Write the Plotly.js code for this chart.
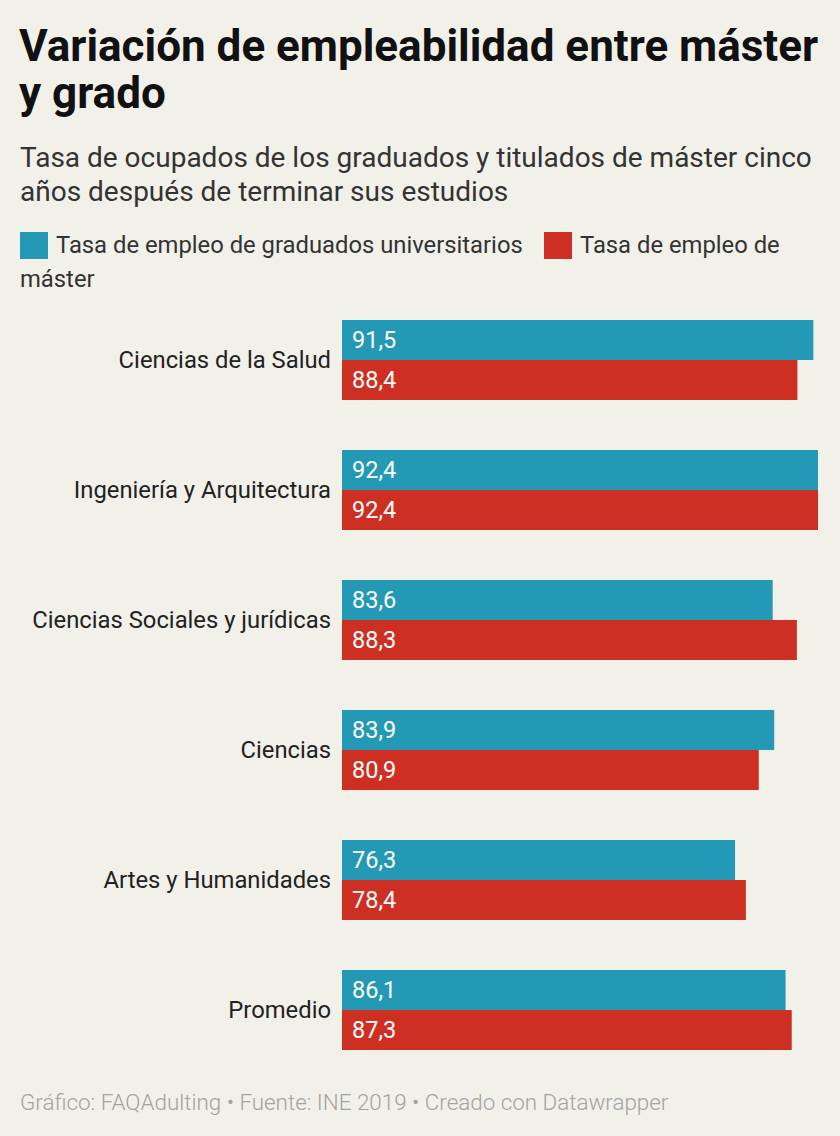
<!DOCTYPE html>
<html>
<head>
<meta charset="utf-8">
<script src="https://cdn.plot.ly/plotly-3.0.1.min.js"></script>
<style>
html, body { margin: 0; padding: 0; background: #f1f0e9; }
#chart { width: 840px; height: 1136px; }
</style>
</head>
<body>
<div id="chart"></div>
<script>
const categories = ['Ciencias de la Salud', 'Ingeniería y Arquitectura', 'Ciencias Sociales y jurídicas', 'Ciencias', 'Artes y Humanidades', 'Promedio'];
const grado = [91.5, 92.4, 83.6, 83.9, 76.3, 86.1];
const master = [88.4, 92.4, 88.3, 80.9, 78.4, 87.3];
const seriesNames = ['Tasa de empleo de graduados universitarios', 'Tasa de empleo de máster'];

const BLUE = '#2399b6';
const RED = '#cd3022';
const BG = '#f1f0e9';
const FONT = 'Roboto, "Noto Sans", sans-serif';

const W = 840, H = 1136;
const M = { l: 342, r: 22, t: 295, b: 61 };
const PW = W - M.l - M.r, PH = H - M.t - M.b;
const px2x = px => (px - M.l) / PW;
const py2y = py => (H - M.b - py) / PH;

const fmt = v => v.toFixed(1).replace('.', ',');

const traces = [
  { type: 'bar', orientation: 'h', name: seriesNames[0], y: categories, x: grado,
    marker: { color: BLUE }, hoverinfo: 'none', showlegend: false },
  { type: 'bar', orientation: 'h', name: seriesNames[1], y: categories, x: master,
    marker: { color: RED }, hoverinfo: 'none', showlegend: false }
];

const annotations = [];
categories.forEach((c, i) => {
  annotations.push({ x: 0, y: c, xref: 'x', yref: 'y', text: fmt(grado[i]), showarrow: false,
    xanchor: 'left', yanchor: 'middle', xshift: 8, yshift: 20,
    font: { family: FONT, size: 23.5, color: '#ffffff' } });
  annotations.push({ x: 0, y: c, xref: 'x', yref: 'y', text: fmt(master[i]), showarrow: false,
    xanchor: 'left', yanchor: 'middle', xshift: 8, yshift: -20,
    font: { family: FONT, size: 23.5, color: '#ffffff' } });
});

function txt(text, px, py, size, color, weight, anchor) {
  annotations.push({ xref: 'paper', yref: 'paper', x: px2x(px), y: py2y(py), text: text,
    showarrow: false, xanchor: anchor || 'left', yanchor: 'middle',
    font: { family: FONT, size: size, color: color, weight: weight || 400 } });
}

// title
txt('Variación de empleabilidad entre máster', 17, 46, 44, '#111111', 700);
txt('y grado', 17, 93, 44, '#111111', 700);
// subtitle
txt('Tasa de ocupados de los graduados y titulados de máster cinco', 18, 158, 28, '#333333', 400);
txt('años después de terminar sus estudios', 18, 191, 28, '#333333', 400);
// legend
txt(seriesNames[0], 54, 245, 23.8, '#333333', 400);
txt('Tasa de empleo de', 578, 245, 23.8, '#333333', 400);
txt('máster', 18, 279, 23.8, '#333333', 400);
// footer
txt('Gráfico: FAQAdulting • Fuente: INE 2019 • Creado con Datawrapper', 18, 1102, 22.4, '#a3a3a0', 300);

const shapes = [
  { type: 'rect', xref: 'paper', yref: 'paper', x0: px2x(20), x1: px2x(48), y0: py2y(232), y1: py2y(259),
    fillcolor: BLUE, line: { width: 0 } },
  { type: 'rect', xref: 'paper', yref: 'paper', x0: px2x(544), x1: px2x(572), y0: py2y(232), y1: py2y(259),
    fillcolor: RED, line: { width: 0 } }
];

const layout = {
  width: W, height: H,
  margin: M,
  paper_bgcolor: BG, plot_bgcolor: BG,
  barmode: 'group', bargap: 50 / 130, bargroupgap: 0,
  showlegend: false,
  font: { family: FONT, color: '#222222' },
  xaxis: { range: [0, 92.4], visible: false, fixedrange: true },
  yaxis: { type: 'category', autorange: 'reversed', showgrid: false, zeroline: false, showline: false,
    ticks: '', ticklabelstandoff: 10, tickfont: { family: FONT, size: 23.8, color: '#222222' }, fixedrange: true },
  annotations: annotations,
  shapes: shapes
};

Plotly.newPlot('chart', traces, layout, { displayModeBar: false, staticPlot: true });
</script>
</body>
</html>
